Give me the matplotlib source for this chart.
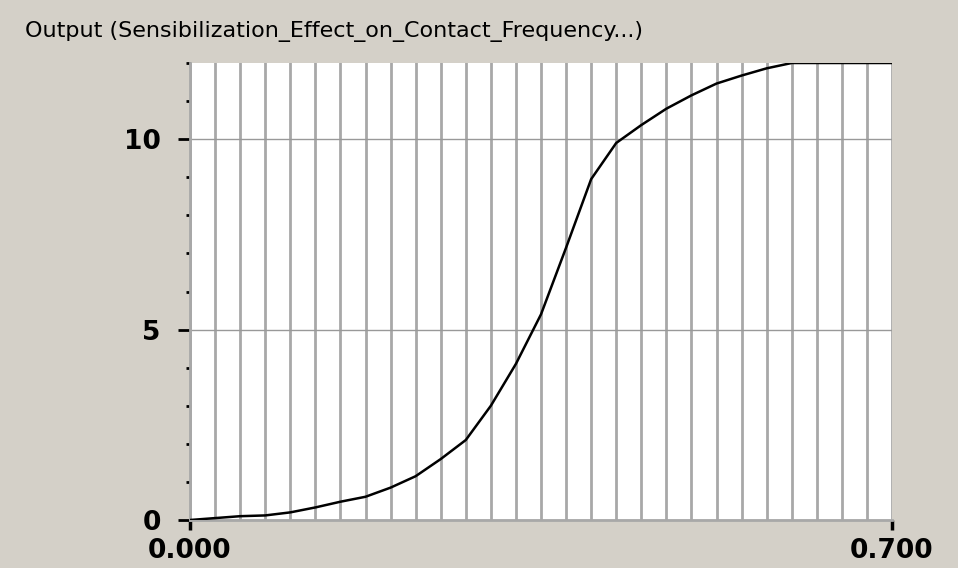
import matplotlib
matplotlib.use("Agg")
import matplotlib.pyplot as plt
import numpy as np

# lookup table, one point per grid step of 0.025
x_vals = np.arange(29) * 0.025
y_vals = [0.0, 0.05, 0.1, 0.12, 0.2, 0.33, 0.48, 0.61, 0.85, 1.15,
          1.6, 2.1, 3.0, 4.1, 5.4, 7.15, 8.95, 9.9, 10.37, 10.8,
          11.15, 11.46, 11.67, 11.86, 12.0, 12.0, 12.0, 12.0, 12.0]

title = "Output (Sensibilization_Effect_on_Contact_Frequency...)"
x_ticks = [0.0, 0.7]
x_ticklabels = ["0.000", "0.700"]
y_ticks = [0, 5, 10]
y_ticklabels = ["0", "5", "10"]

bg = "#d4d0c8"
grid_col = "#a8a8a8"

fig = plt.figure(figsize=(9.58, 5.68), dpi=100, facecolor=bg)
ax = fig.add_axes([190 / 958, 48 / 568, 702 / 958, 457 / 568])
ax.set_facecolor("white")

ax.plot(x_vals, y_vals, color="black", lw=1.8, zorder=3)

ax.set_xlim(0, 0.7)
ax.set_ylim(0, 12)

ax.set_xticks(x_ticks)
ax.set_xticklabels(x_ticklabels)
ax.set_xticks(x_vals, minor=True)
ax.set_yticks(y_ticks)
ax.set_yticklabels(y_ticklabels)
ax.set_yticks(np.arange(13), minor=True)

# vertical lines on every step, horizontal only on major ticks
ax.xaxis.grid(True, which="both", color=grid_col, lw=2)
ax.yaxis.grid(True, which="major", color="#999999", lw=1)

for lab in ax.get_xticklabels() + ax.get_yticklabels():
    lab.set_fontweight("bold")
    lab.set_fontsize(19)

ax.tick_params(axis="x", which="major", length=7, width=2.5, pad=6, colors="black")
ax.tick_params(axis="x", which="minor", length=0)
ax.tick_params(axis="y", which="major", length=9, width=2, pad=12, colors="black")
ax.tick_params(axis="y", which="minor", length=3, width=2, colors="black")

for s in ["top", "right"]:
    ax.spines[s].set_visible(False)
for s in ["left", "bottom"]:
    ax.spines[s].set_color(grid_col)
    ax.spines[s].set_linewidth(2)

fig.text(25 / 958, 1 - 32 / 568, title, fontsize=16, va="center", ha="left")

fig.savefig("out.png", dpi=100, facecolor=bg)
